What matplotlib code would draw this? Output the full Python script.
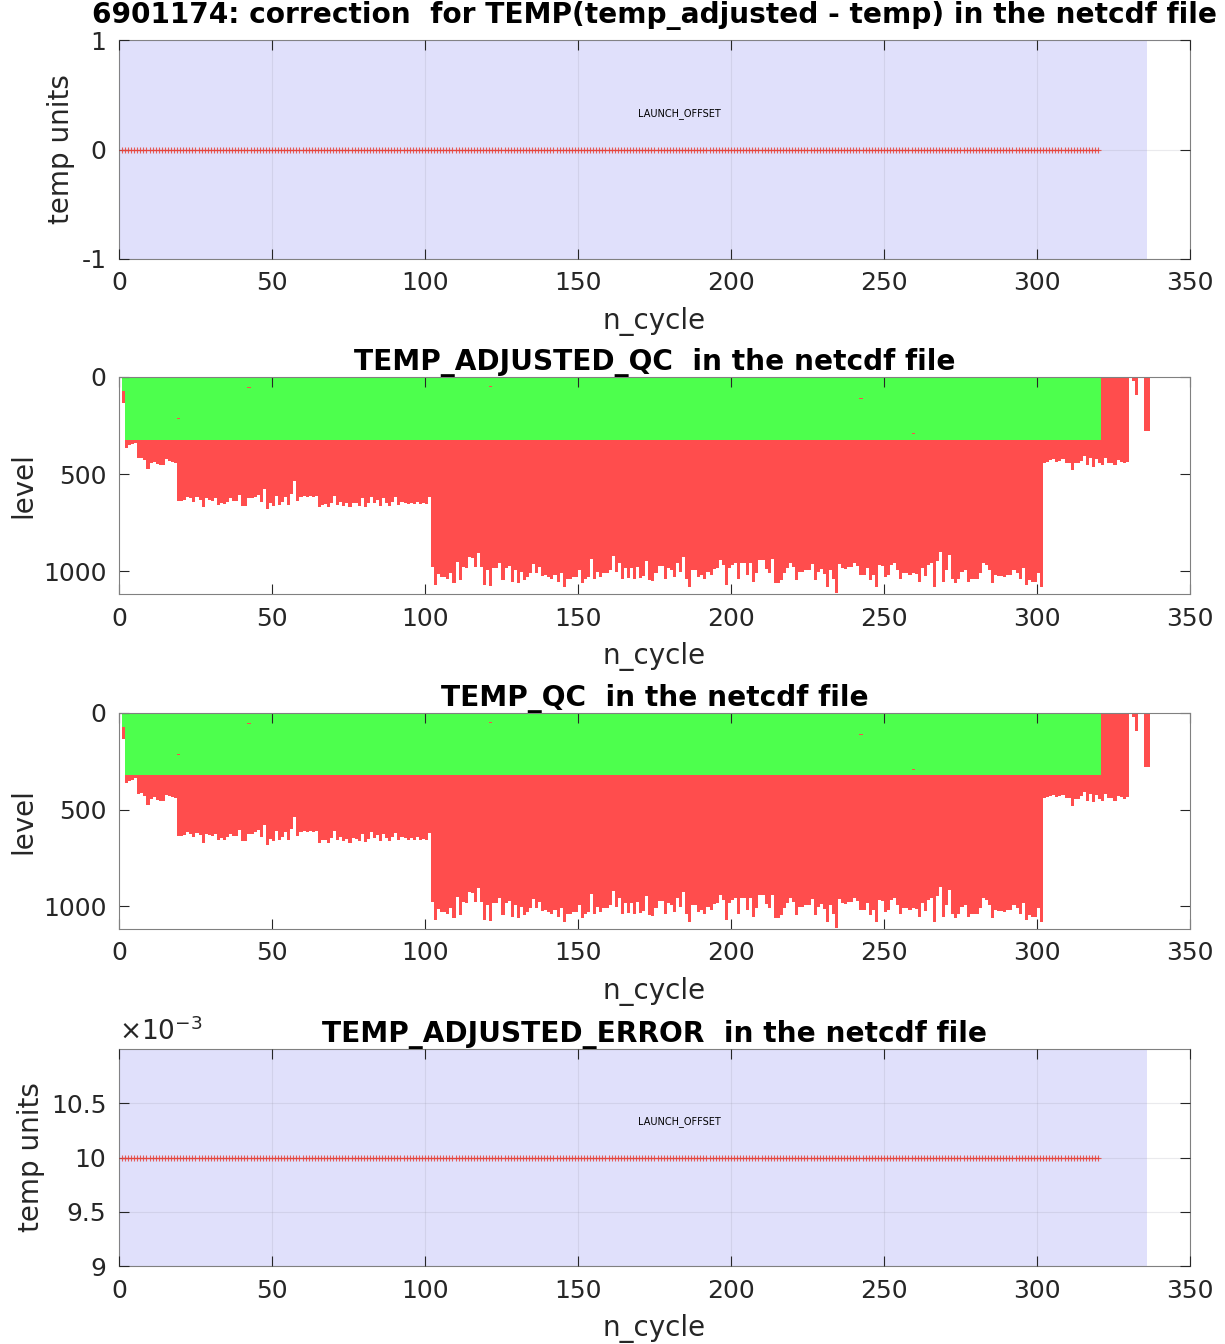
import numpy as np
import matplotlib.pyplot as plt
from matplotlib.colors import ListedColormap, BoundaryNorm

# -------------------------
# Float / profile data
# -------------------------
float_id = '6901174'
n_max_cycle = 336          # extent of the launch-offset period
corr_cycles = np.arange(1, 321)
temp_correction = np.zeros(len(corr_cycles))           # temp_adjusted - temp
temp_adj_error = np.full(len(corr_cycles), 0.01)       # TEMP_ADJUSTED_ERROR

# bottom level of each profile (cycle 2 onward), levels counted from the surface
bottom_c2_18 = [364, 350, 345, 339, 418, 416, 428, 475, 444, 437, 449, 453, 453,
                423, 431, 437, 442]
bottom_c19_101 = [639, 639, 634, 617, 625, 643, 620, 634, 672, 625, 634, 637, 625,
                  660, 648, 656, 643, 625, 639, 637, 608, 665, 665, 625, 625, 617,
                  608, 643, 579, 682, 651, 665, 613, 660, 643, 617, 660, 603, 536,
                  637, 617, 613, 617, 613, 617, 613, 672, 660, 655, 672, 648, 613,
                  660, 643, 665, 651, 672, 648, 651, 665, 625, 668, 651, 617, 648,
                  634, 665, 625, 648, 665, 643, 620, 660, 644, 648, 655, 648, 655,
                  643, 655, 651, 655, 620]
bottom_c102_202 = [977, 1072, 1017, 1032, 1032, 1043, 1012, 1060, 955, 1046, 977, 986,
                   926, 934, 977, 905, 977, 1072, 995, 1077, 986, 982, 960, 1046, 986,
                   974, 1055, 995, 1060, 1003, 1046, 1029, 1012, 965, 1012, 977, 1025,
                   1020, 1029, 1038, 1020, 1055, 1012, 1080, 1038, 1038, 1032, 1032,
                   995, 1063, 1038, 1029, 939, 1038, 1003, 1032, 1008, 1012, 995, 922,
                   1003, 957, 1043, 986, 1034, 986, 1038, 977, 1034, 1025, 946, 1046,
                   1050, 1008, 972, 972, 1038, 986, 995, 1029, 960, 1003, 926, 1038,
                   1080, 995, 995, 1029, 1020, 1038, 1003, 1020, 990, 986, 943, 969,
                   1072, 986, 969, 960, 1038]
bottom_c203_301 = [960, 960, 1020, 957, 1055, 1012, 943, 943, 991, 1008, 940, 1060,
                   1060, 1046, 1012, 986, 957, 977, 1046, 1003, 1003, 995, 995, 965,
                   1046, 1003, 991, 1015, 1081, 995, 1038, 1115, 965, 986, 991, 977,
                   977, 960, 974, 1020, 1020, 986, 1046, 1020, 1081, 969, 974, 1032,
                   1020, 969, 960, 995, 1038, 1012, 1012, 1020, 1008, 1015, 1055, 986,
                   1026, 969, 957, 1081, 947, 900, 1055, 995, 917, 1038, 1063, 1043,
                   1003, 995, 1055, 1038, 1038, 1038, 1012, 960, 969, 995, 1063, 1020,
                   1026, 1026, 1029, 1020, 1020, 995, 1012, 1038, 986, 1072, 1046, 1055,
                   1055, 1012, 1081]
bottom_c302_329 = [441, 436, 428, 424, 436, 431, 424, 441, 441, 479, 445, 445, 431,
                   407, 453, 419, 462, 424, 445, 453, 419, 441, 441, 453, 428, 436,
                   445, 436]

good_depth = 322            # QC=1 down to this level, QC=4 below (cycles 2-320)
last_good_cycle = 320
# cycle 1: short profile
c1_good_bottom, c1_bottom = 70, 136
# late cycles with only a few levels, all flagged bad
late_cycles = [331, 332, 335, 336]
late_bottom = [20, 93, 278, 278]
# isolated bad levels inside the good part
spike_cycles = [19, 42, 121, 242, 259]
spike_levels = [211, 52, 46, 108, 289]

GREEN = '#4dff4d'
RED = '#ff4d4d'
SHADE = '#e0e0fb'
LINE = '#e6443c'
AXC = '#262626'

# -------------------------
# Build QC image (level x cycle)
# -------------------------
nlev = 1120
ncyc = 338
qc = np.full((nlev, ncyc), np.nan)

qc[:c1_good_bottom, 1] = 1
qc[c1_good_bottom:c1_bottom, 1] = 4

bottoms = bottom_c2_18 + bottom_c19_101 + bottom_c102_202 + bottom_c203_301 + bottom_c302_329
for i, b in enumerate(bottoms):
    c = 2 + i
    if c <= last_good_cycle:
        qc[:good_depth, c] = 1
        qc[good_depth:b, c] = 4
    else:
        qc[:b, c] = 4
for c, b in zip(late_cycles, late_bottom):
    qc[:b, c] = 4
for c, lv in zip(spike_cycles, spike_levels):
    qc[lv:lv + 6, c] = 4

x_edges = np.arange(ncyc + 1)
y_edges = np.arange(nlev + 1)
qc_cmap = ListedColormap([GREEN, RED])
qc_norm = BoundaryNorm([0, 2.5, 5], 2)

# -------------------------
# Figure
# -------------------------
plt.rcParams['font.family'] = 'DejaVu Sans'
plt.rcParams['axes.unicode_minus'] = False
fig = plt.figure(figsize=(12.25, 13.44), dpi=100)

left, width = 0.0971, 0.8743
positions = [(left, 0.8073, width, 0.1629),
             (left, 0.5580, width, 0.1615),
             (left, 0.3088, width, 0.1607),
             (left, 0.0580, width, 0.1615)]
axes = [fig.add_axes(p) for p in positions]


def style_axis(ax, grid=False):
    ax.set_xlim(0, 350)
    ax.set_xticks(np.arange(0, 351, 50))
    ax.tick_params(direction='in', length=7.5, width=0.8, colors=AXC,
                   labelsize=18, pad=9, top=True, right=True)
    for s in ax.spines.values():
        s.set_color('#808080')
        s.set_linewidth(0.8)
    ax.set_xlabel('n_cycle', fontsize=20, color=AXC, labelpad=8)
    if grid:
        ax.grid(True, color='#9090a0', alpha=0.18, linewidth=0.8)
        ax.set_axisbelow(False)


# panel 1: correction
ax = axes[0]
ax.axvspan(0, n_max_cycle, color=SHADE, zorder=0, lw=0)
ax.plot(corr_cycles, temp_correction, '-', marker='+', color=LINE, alpha=0.85,
        lw=0.9, ms=5, mew=0.8, zorder=3)
ax.text(183, 0.33, 'LAUNCH_OFFSET', fontsize=7, ha='center', va='center')
ax.set_ylim(-1, 1)
ax.set_yticks([-1, 0, 1])
style_axis(ax, grid=True)
ax.set_ylabel('temp units', fontsize=20, color=AXC, labelpad=5)
ax.set_title(f'{float_id}: correction  for TEMP(temp_adjusted - temp) in the netcdf file',
             fontsize=20.2, fontweight='bold', pad=12)

# panels 2-3: QC flags
for ax, ttl in zip(axes[1:3], ['TEMP_ADJUSTED_QC  in the netcdf file',
                               'TEMP_QC  in the netcdf file']):
    ax.pcolormesh(x_edges, y_edges, qc, cmap=qc_cmap, norm=qc_norm, shading='flat')
    ax.set_ylim(1118, 0)
    ax.set_yticks([0, 500, 1000])
    style_axis(ax)
    ax.set_ylabel('level', fontsize=20, color=AXC, labelpad=4)
    ax.set_title(ttl, fontsize=20.2, fontweight='bold', pad=5)

# panel 4: adjusted error
ax = axes[3]
ax.axvspan(0, n_max_cycle, color=SHADE, zorder=0, lw=0)
ax.plot(corr_cycles, temp_adj_error, '-', marker='+', color=LINE, alpha=0.85,
        lw=0.9, ms=5, mew=0.8, zorder=3)
ax.text(183, 0.01033, 'LAUNCH_OFFSET', fontsize=7, ha='center', va='center')
ax.set_ylim(0.009, 0.011)
ax.set_yticks([0.009, 0.0095, 0.01, 0.0105])
ax.set_yticklabels(['9', '9.5', '10', '10.5'])
style_axis(ax, grid=True)
ax.set_ylabel('temp units', fontsize=20, color=AXC, labelpad=4)
ax.text(0.0, 1.012, r'$\times10^{\mathregular{-3}}$', transform=ax.transAxes,
        fontsize=19, color=AXC, ha='left', va='bottom')
ax.set_title('TEMP_ADJUSTED_ERROR  in the netcdf file', fontsize=20.2,
             fontweight='bold', pad=5)

fig.savefig('out.png', dpi=100)
